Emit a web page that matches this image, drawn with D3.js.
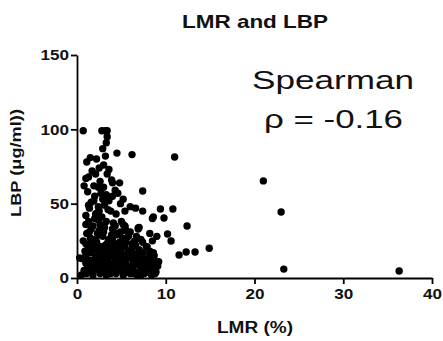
<!DOCTYPE html>
<html>
<head>
<meta charset="utf-8">
<script src="https://cdn.jsdelivr.net/npm/d3@7"></script>
<style>
  body { margin: 0; background: #fff; }
  svg { display: block; }
</style>
</head>
<body>
<div id="chart"></div>
<script>
const title = "LMR and LBP"
const xLabel = "LMR (%)"
const yLabel = "LBP  (\u03bcg/ml))"
const statLines = ["Spearman", "\u03c1 = -0.16"]
const xTicks = [0, 10, 20, 30, 40]
const yTicks = [0, 50, 100, 150]

// LMR (%) and LBP (ug/ml) per subject
const lmr = [
  0.8,1.2,1.5,1.9,2.3,2.6,3.0,3.4,3.8,4.1,4.5,4.9,5.3,5.7,6.1,6.5,6.9,7.3,7.7,8.1,8.5,8.9,9.1,
  0.6,1.0,1.4,1.7,2.1,2.5,2.8,3.2,3.6,4.0,4.3,4.7,5.1,5.5,5.9,6.3,6.7,7.1,7.5,7.9,8.3,8.7,
  0.9,1.3,1.6,2.0,2.4,2.7,3.1,3.5,3.9,4.2,4.6,5.0,5.4,5.8,6.2,6.6,7.0,7.4,7.8,8.2,
  1.1,1.8,2.2,2.9,3.3,3.7,4.4,4.8,5.2,5.6,6.0,6.4,6.8,7.2,7.6,8.0,8.4,8.8,1.5,2.6,3.5,4.6,5.9,
  1.0,1.4,2.0,2.4,3.0,3.6,4.2,4.7,5.3,5.8,6.3,6.8,7.3,7.8,8.3,8.8,1.7,2.7,3.9,5.0,6.1,7.0,8.0,9.2,0.5,
  1.3,1.9,2.5,3.2,3.8,4.5,5.1,5.7,6.4,7.0,7.6,8.2,8.7,1.0,2.2,3.4,4.0,5.5,6.6,7.4,8.6,2.8,4.9,6.0,7.2,1.6,3.7,5.6,
  0.7,1.1,1.5,1.8,2.2,2.5,2.9,3.3,3.6,4.0,4.4,4.8,5.2,5.6,6.0,6.5,7.0,1.3,2.0,2.7,3.4,4.1,4.9,5.8,6.9,1.0,1.7,2.4,3.1,3.8,4.5,5.4,
  1.2,1.6,2.1,2.6,3.0,3.5,3.9,4.3,4.7,5.1,5.5,6.2,6.7,7.2,2.3,3.2,4.0,5.0,1.4,2.9,
  1.0,1.4,1.9,2.3,2.7,3.1,3.5,4.0,4.4,4.9,5.4,6.0,1.2,2.0,2.8,3.6,4.3,5.2,6.6,1.6,2.5,3.3,7.4,8.5,
  1.3,2.1,2.9,3.8,4.6,2.4,3.0,
  0.8,1.3,1.7,2.2,2.6,3.0,3.4,3.9,4.5,1.1,1.9,2.5,3.2,4.0,2.9,1.5,2.1,3.6,6.2,3.3,3.4,0.7,2.8,3.2,3.4,2.4,4.8,1.0,
  7.9,8.5,9.0,8.2,6.9,5.4,7.4,0.3,
  9.4,10.8,8.6,9.8,12.4,10.2,10.6,11.5,12.3,13.3,14.9,11.0,21.0,23.0,23.3,36.3
]
const lbp = [
  5,8,4,10,6,3,9,5,7,4,11,6,3,8,5,10,4,7,5,9,6,4,8,
  13,15,12,9,14,11,16,13,10,15,12,9,14,11,16,12,9,14,11,13,10,15,
  18,20,17,22,19,21,17,20,18,22,19,17,21,18,20,16,19,17,21,18,
  3,2,6,4,2,6,3,5,2,4,6,3,2,5,3,4,2,3,7,8,3,9,8,
  10,6,12,16,7,14,8,13,9,17,7,12,15,9,13,11,19,5,16,11,14,9,7,11,2,
  8,12,9,11,3,16,13,7,10,18,12,16,9,23,24,20,25,24,22,24,17,14,21,3,2,4,9,15,
  25,30,27,35,24,32,28,38,26,33,29,24,36,27,31,25,34,38,40,29,23,37,31,28,33,36,24,39,34,27,30,35,
  22,33,26,36,31,24,29,35,22,27,32,23,28,26,30,22,25,38,31,34,
  42,47,52,44,57,49,46,55,43,50,45,48,58,55,41,52,59,53,47,51,45,56,45,40,
  49,43,53,45,57,48,61,
  62,68,72,80,65,76,70,66,84,78,62,74,82,64,87,81,70,73,83,91,95,99,99,99,99,61,64,67,
  21,25,28,30,33.6,34.3,58.5,13.5,
  46.4,46.4,41,40.4,35,29.6,24.9,15.5,17.5,17.5,20,81.4,65.3,44.4,6,4.7
]

const width = 443, height = 341
const margin = {top: 55, right: 11, bottom: 63, left: 77}
const font = "Liberation Sans, Arial, sans-serif"

const svg = d3.select("#chart").append("svg")
  .attr("width", width)
  .attr("height", height)

const x = d3.scaleLinear().domain([0, 40]).range([margin.left, width - margin.right])
const y = d3.scaleLinear().domain([0, 150]).range([height - margin.bottom, margin.top])

const xAxis = svg.append("g")
  .attr("transform", `translate(0,${height - margin.bottom})`)
  .call(d3.axisBottom(x).tickValues(xTicks).tickSize(6).tickPadding(4).tickSizeOuter(0))
const yAxis = svg.append("g")
  .attr("transform", `translate(${margin.left},0)`)
  .call(d3.axisLeft(y).tickValues(yTicks).tickSize(6).tickPadding(2).tickSizeOuter(0))

for (const ax of [xAxis, yAxis]) {
  ax.select(".domain").attr("stroke", "#000").attr("stroke-width", 1.8)
  ax.selectAll(".tick line").attr("stroke", "#000").attr("stroke-width", 1.8)
  ax.selectAll(".tick text")
    .attr("fill", "#111")
    .attr("font-family", font)
    .attr("font-weight", "bold")
    .attr("font-size", 15)
    .attr("textLength", d => String(d).length * 9.5)
    .attr("lengthAdjust", "spacingAndGlyphs")
}

svg.append("g")
  .selectAll("circle")
  .data(d3.range(lmr.length))
  .join("circle")
  .attr("cx", i => x(lmr[i]))
  .attr("cy", i => y(lbp[i]))
  .attr("r", 3.7)
  .attr("fill", "#000")

svg.append("text")
  .attr("x", 255).attr("y", 28)
  .attr("text-anchor", "middle")
  .attr("font-family", font).attr("font-weight", "bold").attr("font-size", 19)
  .attr("textLength", 146).attr("lengthAdjust", "spacingAndGlyphs")
  .attr("fill", "#111")
  .text(title)

svg.append("text")
  .attr("x", 255).attr("y", 333)
  .attr("text-anchor", "middle")
  .attr("font-family", font).attr("font-weight", "bold").attr("font-size", 16)
  .attr("textLength", 76).attr("lengthAdjust", "spacingAndGlyphs")
  .attr("fill", "#111")
  .text(xLabel)

svg.append("text")
  .attr("transform", "translate(21,163) rotate(-90)")
  .attr("text-anchor", "middle")
  .attr("font-family", font).attr("font-weight", "bold").attr("font-size", 15)
  .attr("textLength", 108).attr("lengthAdjust", "spacingAndGlyphs")
  .attr("fill", "#111")
  .text(yLabel)

const statWidths = [162, 139]
svg.append("g")
  .selectAll("text")
  .data(statLines)
  .join("text")
  .attr("x", (d, i) => i === 0 ? 333 : 333.5)
  .attr("y", (d, i) => 89 + i * 39)
  .attr("text-anchor", "middle")
  .attr("font-family", font).attr("font-size", 26)
  .attr("textLength", (d, i) => statWidths[i]).attr("lengthAdjust", "spacingAndGlyphs")
  .attr("fill", "#111")
  .text(d => d)
</script>
</body>
</html>
